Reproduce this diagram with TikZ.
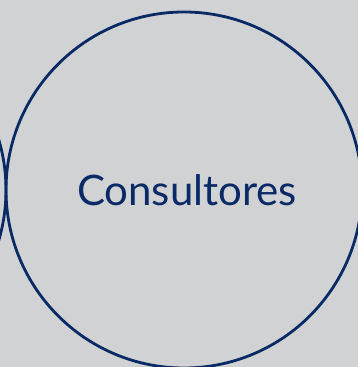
\documentclass[tikz,border=0pt]{standalone}
\usepackage{fontspec}
\setmainfont{Lato}
\definecolor{navy}{HTML}{0A2A66}
\definecolor{bg}{HTML}{D1D2D4}
\begin{document}
\begin{tikzpicture}[x=1pt,y=1pt,
  ring/.style={draw=navy,line width=2.8pt}]
\fill[bg] (0,0) rectangle (358,367);
\useasboundingbox (0,0) rectangle (358,367);
\begin{scope}
\clip (0,0) rectangle (358,367);
\node[circle,ring,minimum size=356pt,inner sep=0pt] (main) at (184,177) {};
\node[circle,ring,minimum size=356pt,inner sep=0pt] (left) at (-172,177) {};
\end{scope}
\node[text=navy,font=\fontsize{42}{50}\selectfont,inner sep=0pt] (lbl) at (187,177) {Consultores};
\end{tikzpicture}
\end{document}
